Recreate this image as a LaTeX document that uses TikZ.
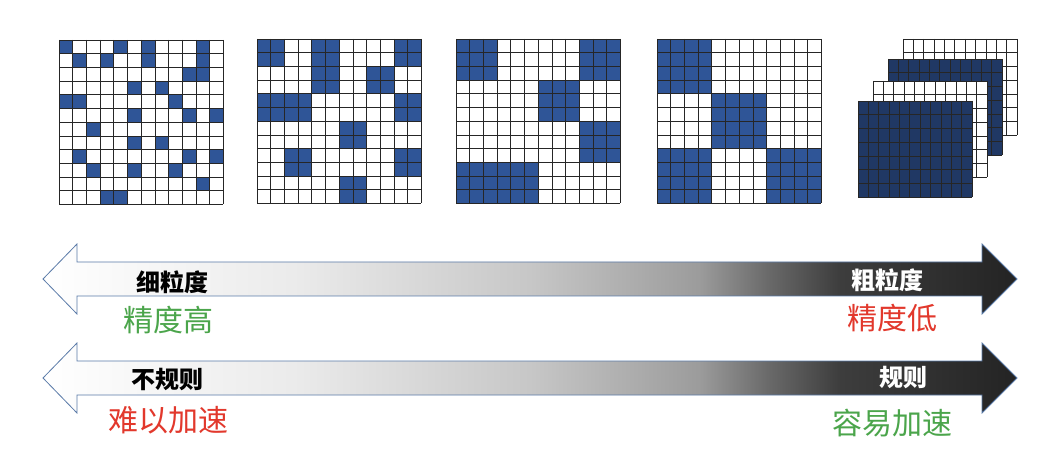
\documentclass[tikz,border=0pt]{standalone}
\usepackage{xcolor}
\usepackage{fontspec}
\usepackage{tikz}
\newfontfamily\cjk{Noto Sans CJK SC}
\definecolor{cellblue}{HTML}{2F5597}
\definecolor{stackblue}{HTML}{203864}
\definecolor{edgeblue}{HTML}{5A7AA8}
\definecolor{goodgreen}{HTML}{4BA54B}
\definecolor{badred}{HTML}{E2382C}
\pgfdeclarehorizontalshading{barshade}{100bp}{color(0bp)=(white); color(25bp)=(white); color(38bp)=(black!8); color(50bp)=(black!22); color(58.7bp)=(black!39); color(62.3bp)=(black!59); color(65.9bp)=(black!76); color(75bp)=(black!86); color(100bp)=(black!86)}
\def\cellsz{13.7}
\newcommand{\blockgrid}[4]{%
  \foreach \r/\c in {#4}
    \fill[cellblue] ({#1+\c*#3*\cellsz},{#2+\r*#3*\cellsz}) rectangle ++({#3*\cellsz},{#3*\cellsz});
  \foreach \i in {0,...,12} {
    \draw[gridline] ({#1+\i*\cellsz},#2) -- ++(0,{12*\cellsz});
    \draw[gridline] (#1,{#2+\i*\cellsz}) -- ++({12*\cellsz},0);
  }
}
\newcommand{\stacklayer}[3]{%
  \fill[#3] (#1,#2) rectangle ++(114,96);
  \foreach \i in {0,...,11}
    \draw[gridline] ({#1+\i*114/11},#2) -- ++(0,96);
  \foreach \i in {0,...,7}
    \draw[gridline] (#1,{#2+\i*96/7}) -- ++(114,0);
}
\newcommand{\bararrow}[1]{%
  \shade[shading=barshade, draw=edgeblue, line width=0.8pt]
    (43,#1) -- (77,#1-35) -- (77,#1-17) -- (982,#1-17) -- (982,#1-35) -- (1017,#1)
    -- (982,#1+35) -- (982,#1+17) -- (77,#1+17) -- (77,#1+35) -- cycle;
}

\begin{document}
\begin{tikzpicture}[x=1pt, y=-1pt,
        gridline/.style={draw=black!85, line width=0.7pt},
        boldlbl/.style={font=\cjk\bfseries\fontsize{24}{24}\selectfont, inner sep=0pt},
        plainlbl/.style={font=\cjk\fontsize{30}{30}\selectfont, inner sep=0pt}]
        \useasboundingbox (0,0) rectangle (1037,473);
        \fill[white] (0,0) rectangle (1037,473);
        \blockgrid{59}{40}{1}{0/0,0/4,0/6,0/10,1/1,1/3,1/6,1/10,2/9,2/10,3/5,3/7,4/0,4/1,4/8,5/5,5/9,5/11,6/2,7/5,7/7,8/1,8/9,8/11,9/2,9/5,9/8,10/10,11/3,11/4}
        \blockgrid{257}{39}{2}{0/0,0/2,0/5,1/2,1/4,2/0,2/1,2/5,3/3,4/1,4/5,5/3}
        \blockgrid{456}{39}{3}{0/0,0/3,1/2,2/3,3/0,3/1}
        \blockgrid{657}{39}{4}{0/0,1/1,2/0,2/2}
        \stacklayer{903}{39}{white}
        \stacklayer{888}{59}{stackblue}
        \stacklayer{873}{81}{white}
        \stacklayer{858}{101}{stackblue}
        \bararrow{279}
        \bararrow{378}
        \node[boldlbl] (fine) at (172,282) {细粒度};
        \node[plainlbl, text=goodgreen] (finehigh) at (168,320) {精度高};
        \node[boldlbl, text=white] (coarse) at (887,280) {粗粒度};
        \node[plainlbl, text=badred] (coarselow) at (892,318) {精度低};
        \node[boldlbl] (irregular) at (167,380) {不规则};
        \node[plainlbl, text=badred] (irrhard) at (168,420) {难以加速};
        \node[boldlbl, text=white] (regular) at (903,378) {规则};
        \node[plainlbl, text=goodgreen] (regeasy) at (892,423) {容易加速};
    \end{tikzpicture}
\end{document}
